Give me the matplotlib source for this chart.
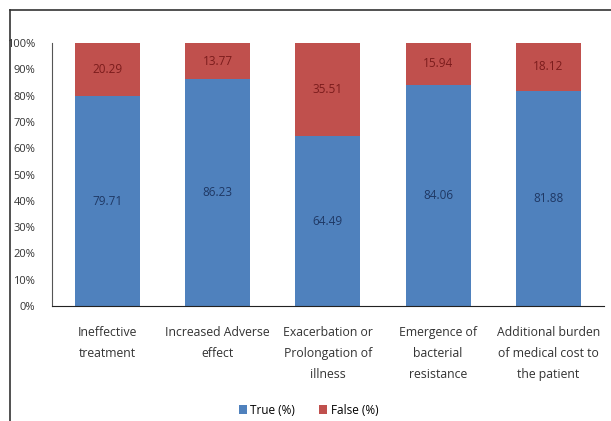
import matplotlib
matplotlib.use("Agg")
import matplotlib.pyplot as plt
from matplotlib.lines import Line2D
import numpy as np

# Données
categories = ["Ineffective\ntreatment", "Increased Adverse\neffect",
              "Exacerbation or\nProlongation of\nillness", "Emergence of\nbacterial\nresistance",
              "Additional burden\nof medical cost to\nthe patient"]
true_pct = [79.71, 86.23, 64.49, 84.06, 81.88]
false_pct = [20.29, 13.77, 35.51, 15.94, 18.12]

blue = "#4F81BD"
red = "#C0504D"

plt.rcParams["font.family"] = ["Open Sans", "DejaVu Sans"]

fig = plt.figure(figsize=(6.11, 4.21), dpi=100)
ax = fig.add_axes([0.085, 0.273, 0.903, 0.625])

x = np.arange(len(categories))
w = 0.59
b1 = ax.bar(x, true_pct, w, color=blue, label="True (%)")
b2 = ax.bar(x, false_pct, w, bottom=true_pct, color=red, label="False (%)")

# Étiquettes au centre des segments
for i in range(len(x)):
    ax.text(x[i], true_pct[i] / 2, f"{true_pct[i]:.2f}", ha="center", va="center",
            fontsize=8.5, color="#1F3864")
    ax.text(x[i], true_pct[i] + false_pct[i] / 2, f"{false_pct[i]:.2f}", ha="center",
            va="center", fontsize=8.5, color="#7B1C1C")

ax.set_xlim(-0.5, len(categories) - 0.5)
ax.set_ylim(0, 100)
ax.set_yticks(range(0, 101, 10))
ax.set_yticklabels([f"{v}%" for v in range(0, 101, 10)], fontsize=8, color="#333333")
ax.set_xticks(x)
ax.set_xticklabels(categories, fontsize=8.8, color="#333333", linespacing=1.8)
ax.tick_params(axis="x", length=0, pad=14)
ax.tick_params(axis="y", length=0, pad=12)
for s in ["top", "right"]:
    ax.spines[s].set_visible(False)
ax.spines["left"].set_color("#555555")
ax.spines["bottom"].set_color("#222222")

leg = fig.legend(handles=[b1, b2], loc="center", bbox_to_anchor=(0.505, 0.026), ncol=2,
                 frameon=False, fontsize=8.5, handlelength=0.7, handleheight=0.9,
                 handletextpad=0.3, columnspacing=2.0)

# Cadre partiel (haut et gauche)
fig.add_artist(Line2D([0.016, 1.0], [0.976, 0.976], color="#333333", lw=1.2))
fig.add_artist(Line2D([0.016, 0.016], [0.0, 0.976], color="#333333", lw=1.2))

plt.savefig("out.png", dpi=100)
plt.close()
